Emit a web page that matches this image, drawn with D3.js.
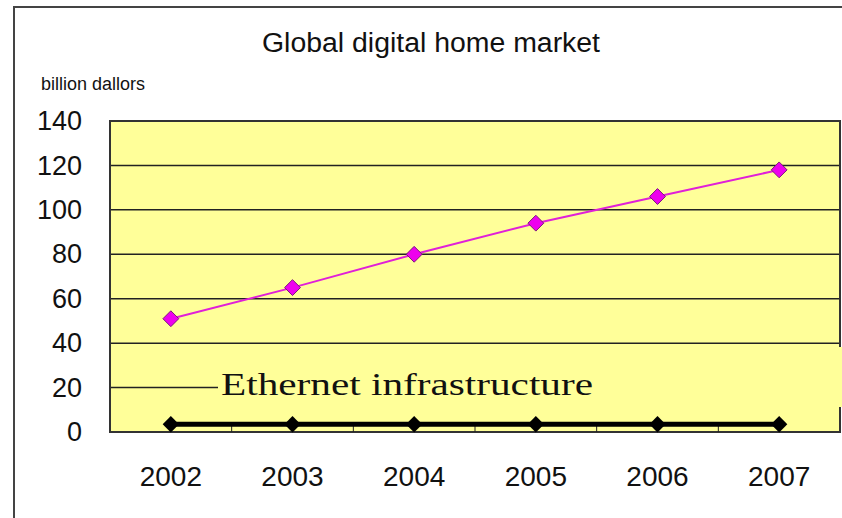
<!DOCTYPE html>
<html>
<head>
<meta charset="utf-8">
<script src="https://cdn.jsdelivr.net/npm/d3@7"></script>
<style>
  body { margin: 0; background: #fff; }
  svg { display: block; font-family: Arial, "Liberation Sans", sans-serif; }
</style>
</head>
<body>
<div class="chart"></div>
<script>
// values
const years = ["2002", "2003", "2004", "2005", "2006", "2007"];
const homeMarket = [51, 65, 80, 94, 106, 118];
const ethernet = [3.5, 3.5, 3.5, 3.5, 3.5, 3.5];
const yTicks = [0, 20, 40, 60, 80, 100, 120, 140];

const W = 842, H = 518;
const margin = { top: 121, right: 2, bottom: 86, left: 110 };
const width = W - margin.left - margin.right,
  height = H - margin.top - margin.bottom;

const root = d3.select(".chart").append("svg")
  .attr("width", W).attr("height", H);

// outer chart frame (top and left edges visible)
root.append("path")
  .attr("d", `M14,${H} L14,7 L${W},7`)
  .attr("fill", "none").attr("stroke", "#444").attr("stroke-width", 2);

root.append("text")
  .attr("x", 262).attr("y", 52)
  .attr("font-size", 27)
  .attr("textLength", 338)
  .attr("lengthAdjust", "spacingAndGlyphs")
  .attr("fill", "#111")
  .text("Global digital home market");

root.append("text")
  .attr("x", 41).attr("y", 90)
  .attr("font-size", 18)
  .attr("textLength", 104)
  .attr("lengthAdjust", "spacingAndGlyphs")
  .attr("fill", "#111")
  .text("billion dallors");

const svg = root.append("g")
  .attr("transform", `translate(${margin.left}, ${margin.top})`);

const xScale = d3.scaleBand().domain(years).range([0, width]);
const yScale = d3.scaleLinear().domain([0, 140]).range([height, 0]);

// plot background
svg.append("rect")
  .attr("width", width).attr("height", height)
  .attr("fill", "#ffff99");

// gridlines
svg.append("g").selectAll("line")
  .data(yTicks.filter(d => d > 0 && d < 140))
  .join("line")
  .attr("x1", 0).attr("x2", width)
  .attr("y1", d => yScale(d)).attr("y2", d => yScale(d))
  .attr("stroke", "#222").attr("stroke-width", 1.5);

// plot frame
svg.append("rect")
  .attr("width", width).attr("height", height)
  .attr("fill", "none").attr("stroke", "#333").attr("stroke-width", 2);

// y axis labels
const yAxis = d3.axisLeft(yScale).tickValues(yTicks).tickSize(0).tickPadding(28);
svg.append("g").attr("class", "y-axis").call(yAxis)
  .call(g => g.select(".domain").remove())
  .selectAll("text")
  .attr("font-size", 27)
  .attr("font-family", "Arial, 'Liberation Sans', sans-serif")
  .attr("fill", "#111");

// x axis: ticks at band boundaries pointing up, labels centred
const xAxis = d3.axisBottom(xScale).tickSize(0).tickPadding(34);
svg.append("g").attr("class", "x-axis")
  .attr("transform", `translate(0, ${height})`)
  .call(xAxis)
  .call(g => g.select(".domain").remove())
  .selectAll("text")
  .attr("font-size", 28)
  .attr("font-family", "Arial, 'Liberation Sans', sans-serif")
  .attr("fill", "#111");

svg.append("g").selectAll("line")
  .data(years.slice(1))
  .join("line")
  .attr("x1", d => xScale(d)).attr("x2", d => xScale(d))
  .attr("y1", height).attr("y2", height - 9)
  .attr("stroke", "#222").attr("stroke-width", 1);

const cx = d => xScale(d) + xScale.bandwidth() / 2;

// Ethernet infrastructure label box (covers the 20 gridline and right edge)
svg.append("rect")
  .attr("x", 108).attr("y", 226)
  .attr("width", width - 108 + 10).attr("height", 60)
  .attr("fill", "#ffff99");

svg.append("text")
  .attr("x", 111).attr("y", 274)
  .attr("font-family", "'Liberation Serif', 'Times New Roman', serif")
  .attr("font-size", 31)
  .attr("textLength", 372)
  .attr("lengthAdjust", "spacingAndGlyphs")
  .attr("fill", "#111")
  .text("Ethernet infrastructure");

// Ethernet series
const lineE = d3.line().x((d, i) => cx(years[i])).y(d => yScale(d));
svg.append("path")
  .datum(ethernet)
  .attr("d", lineE)
  .attr("fill", "none").attr("stroke", "#000").attr("stroke-width", 5);

svg.append("g").selectAll("path")
  .data(ethernet)
  .join("path")
  .attr("d", d3.symbol(d3.symbolDiamond2, 170))
  .attr("transform", (d, i) => `translate(${cx(years[i])}, ${yScale(d)})`)
  .attr("fill", "#000");

// digital home market series
svg.append("path")
  .datum(homeMarket)
  .attr("d", lineE)
  .attr("fill", "none").attr("stroke", "#e020d8").attr("stroke-width", 2);

svg.append("g").selectAll("path")
  .data(homeMarket)
  .join("path")
  .attr("d", d3.symbol(d3.symbolDiamond2, 160))
  .attr("transform", (d, i) => `translate(${cx(years[i])}, ${yScale(d)})`)
  .attr("fill", "#ee00ee")
  .attr("stroke", "#7a1a7a").attr("stroke-width", 1);
</script>
</body>
</html>
